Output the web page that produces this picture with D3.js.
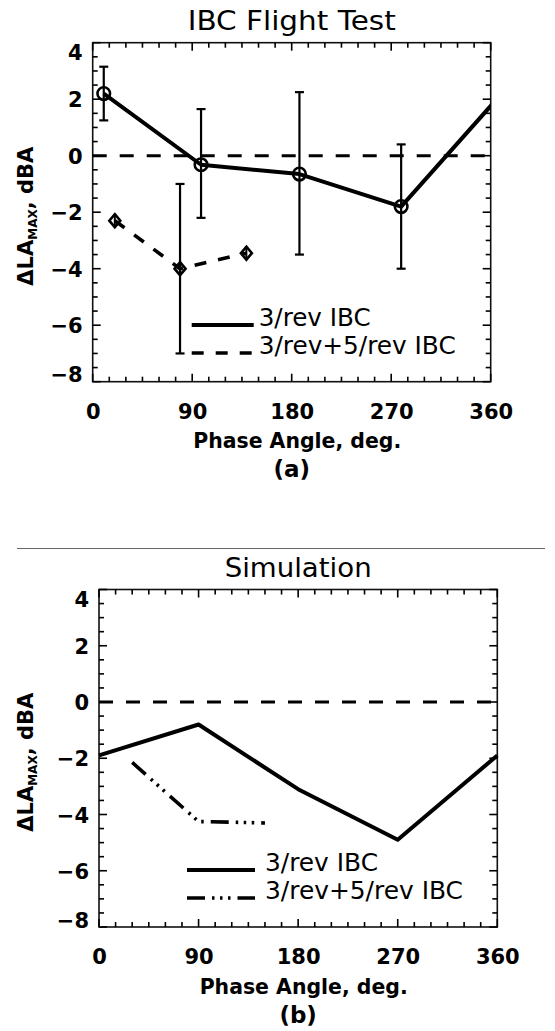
<!DOCTYPE html>
<html>
<head>
<meta charset="utf-8">
<script src="https://cdn.jsdelivr.net/npm/d3@7"></script>
<style>
  html, body { margin: 0; padding: 0; background: #fff; }
  svg { display: block; }
  text { font-family: "DejaVu Sans", "Liberation Sans", sans-serif; fill: #000; }
</style>
</head>
<body>
<svg id="chart" width="555" height="1031"></svg>
<script>
// ---- data -------------------------------------------------------------
const phaseTicks = [0, 90, 180, 270, 360];
const levelTicks = [4, 2, 0, -2, -4, -6, -8];
const phaseMinorStep = 15;
const levelMinorStep = 0.5;

// (a) flight test, 3/rev IBC (circles, with scatter bars)
const flight3Phase = [10, 98, 187, 279];
const flight3Level = [2.2, -0.32, -0.65, -1.8];
const flight3High  = [3.15, 1.65, 2.25, 0.4];
const flight3Low   = [1.25, -2.2, -3.5, -4.0];

// (a) flight test, 3/rev+5/rev IBC (diamonds)
const flight35Phase = [20, 79, 139];
const flight35Level = [-2.3, -4.0, -3.45];
const flight35BarPhase = [79];
const flight35BarHigh  = [-1.0];
const flight35BarLow   = [-7.0];

// (b) simulation
const sim3Phase = [0, 90, 180, 270, 360];
const sim3Level = [-1.9, -0.8, -3.1, -4.9, -1.9];
const sim35Phase = [30, 90, 150];
const sim35Level = [-2.15, -4.25, -4.3];

const seriesNames = ["3/rev IBC", "3/rev+5/rev IBC"];

// ---- layout -----------------------------------------------------------
const svg = d3.select("#chart");
svg.append("rect").attr("width", 555).attr("height", 1031).attr("fill", "#fff");

const panelA = {
  id: "a", left: 92.7, right: 490.7, top: 42.7, bottom: 381.7,
  title: "IBC Flight Test", titleLen: 208, titleY: 30,
  caption: "(a)",
  legend: { x0: 99, x1: 161, textX: 166, y: [325, 353], textLen: [112, 197] }
};
const panelB = {
  id: "b", left: 99, right: 497.3, top: 589.5, bottom: 927,
  title: "Simulation", titleLen: 147, titleY: 577,
  caption: "(b)",
  legend: { x0: 88, x1: 156, textX: 166, y: [870, 898], textLen: [113, 198] }
};

const dashZero = "14,13";
const dashFlight = "12,12";
const dashDotDotDot = "18,7,2.5,5.5,2.5,5.5,2.5,7";

function drawFrame(p) {
  const g = svg.append("g").attr("class", "panel-" + p.id);
  const x = d3.scaleLinear().domain([0, 360]).range([p.left, p.right]);
  const y = d3.scaleLinear().domain([-8, 4]).range([p.bottom, p.top]);

  const minorX = d3.range(0, 360 + 1e-9, phaseMinorStep);
  const minorY = d3.range(-8, 4 + 1e-9, levelMinorStep);
  const isMajorX = v => phaseTicks.includes(v);
  const isMajorY = v => levelTicks.includes(v);

  // frame
  g.append("rect")
    .attr("x", p.left).attr("y", p.top)
    .attr("width", p.right - p.left).attr("height", p.bottom - p.top)
    .attr("fill", "none").attr("stroke", "#111").attr("stroke-width", 1.6);

  // inward ticks on all four sides (long at labelled values)
  const tg = g.append("g").attr("stroke", "#000").attr("stroke-width", 1.6);
  minorX.forEach(v => {
    const len = isMajorX(v) ? 8 : 5;
    tg.append("line").attr("x1", x(v)).attr("x2", x(v)).attr("y1", p.bottom).attr("y2", p.bottom - len);
    tg.append("line").attr("x1", x(v)).attr("x2", x(v)).attr("y1", p.top).attr("y2", p.top + len);
  });
  minorY.forEach(v => {
    const len = isMajorY(v) ? 8 : 5;
    tg.append("line").attr("x1", p.left).attr("x2", p.left + len).attr("y1", y(v)).attr("y2", y(v));
    tg.append("line").attr("x1", p.right).attr("x2", p.right - len).attr("y1", y(v)).attr("y2", y(v));
  });

  // labels through d3 axes (ticks and domain hidden; the frame above draws them)
  const bottomAx = g.append("g").attr("transform", `translate(0,${p.bottom})`)
    .call(d3.axisBottom(x).tickValues(phaseTicks).tickSize(0)
      .tickPadding(22).tickFormat(d3.format("d")));
  const leftAx = g.append("g").attr("transform", `translate(${p.left},0)`)
    .call(d3.axisLeft(y).tickValues(levelTicks).tickSize(0)
      .tickPadding(10).tickFormat(d => d < 0 ? "\u2212" + Math.abs(d) : String(d)));

  [bottomAx, leftAx].forEach(a => {
    a.select(".domain").remove();
    a.selectAll(".tick line").remove();
    a.selectAll("text")
      .style("font-family", '"DejaVu Sans", sans-serif')
      .style("font-weight", "bold")
      .style("font-size", "21px")
      .attr("fill", "#000");
  });
  // keep the end labels of the level axis inside the frame height
  leftAx.selectAll(".tick text")
    .attr("dy", d => d === 4 ? "0.82em" : d === -8 ? "0.0em" : "0.36em");

  // zero reference
  g.append("line")
    .attr("x1", x(0)).attr("x2", x(360))
    .attr("y1", y(0)).attr("y2", y(0))
    .attr("stroke", "#000").attr("stroke-width", 3)
    .attr("stroke-dasharray", dashZero);

  // titles
  g.append("text")
    .attr("x", (p.left + p.right) / 2).attr("y", p.titleY)
    .attr("text-anchor", "middle")
    .attr("font-size", 26)
    .attr("textLength", p.titleLen).attr("lengthAdjust", "spacingAndGlyphs")
    .text(p.title);

  g.append("text")
    .attr("x", (p.left + p.right) / 2 + 5.5).attr("y", p.bottom + 66.6)
    .attr("text-anchor", "middle")
    .attr("font-size", 22).attr("font-weight", "bold")
    .attr("textLength", 208).attr("lengthAdjust", "spacingAndGlyphs")
    .text("Phase Angle, deg.");

  g.append("text")
    .attr("x", (p.left + p.right) / 2).attr("y", p.bottom + 95.5)
    .attr("text-anchor", "middle")
    .attr("font-size", 23).attr("font-weight", "bold")
    .text(p.caption);

  // level axis title:  ΔLA_MAX, dBA
  const yt = g.append("text")
    .attr("transform", `translate(33,${(p.top + p.bottom) / 2 + 4}) rotate(-90)`)
    .attr("text-anchor", "middle")
    .attr("font-size", 21).attr("font-weight", "bold");
  yt.append("tspan").text("\u0394LA");
  yt.append("tspan").attr("font-size", 12).attr("dy", 4).text("MAX");
  yt.append("tspan").attr("dy", -4).text(", dBA");

  return { g, x, y };
}

// ---- (a) flight test ----------------------------------------------------
(function () {
  const { g, x, y } = drawFrame(panelA);
  const clipId = "clip-a";
  g.append("clipPath").attr("id", clipId).append("rect")
    .attr("x", panelA.left).attr("y", panelA.top)
    .attr("width", panelA.right - panelA.left).attr("height", panelA.bottom - panelA.top);

  // periodic in phase: the curve continues to the first point one revolution later
  const pts3 = flight3Phase.map((ph, i) => [ph, flight3Level[i]]);
  const pts3Wrapped = pts3.concat([[pts3[0][0] + 360, pts3[0][1]]]);
  const line = d3.line().x(d => x(d[0])).y(d => y(d[1]));

  g.append("path").datum(pts3Wrapped)
    .attr("clip-path", `url(#${clipId})`)
    .attr("d", line).attr("fill", "none")
    .attr("stroke", "#000").attr("stroke-width", 4).attr("stroke-linejoin", "round");

  // scatter bars
  const bars = flight3Phase.map((ph, i) => ({ ph, hi: flight3High[i], lo: flight3Low[i] }))
    .concat(flight35BarPhase.map((ph, i) => ({ ph, hi: flight35BarHigh[i], lo: flight35BarLow[i] })));
  const bg = g.append("g").attr("stroke", "#000").attr("stroke-width", 2.2);
  bars.forEach(b => {
    bg.append("line").attr("x1", x(b.ph)).attr("x2", x(b.ph)).attr("y1", y(b.hi)).attr("y2", y(b.lo));
    bg.append("line").attr("x1", x(b.ph) - 4.5).attr("x2", x(b.ph) + 4.5).attr("y1", y(b.hi)).attr("y2", y(b.hi));
    bg.append("line").attr("x1", x(b.ph) - 4.5).attr("x2", x(b.ph) + 4.5).attr("y1", y(b.lo)).attr("y2", y(b.lo));
  });

  g.append("g").selectAll("circle").data(pts3).join("circle")
    .attr("cx", d => x(d[0])).attr("cy", d => y(d[1])).attr("r", 6.3)
    .attr("fill", "none").attr("stroke", "#000").attr("stroke-width", 2.6);

  const pts35 = flight35Phase.map((ph, i) => [ph, flight35Level[i]]);
  g.append("path").datum(pts35)
    .attr("d", line).attr("fill", "none")
    .attr("stroke", "#000").attr("stroke-width", 3.6)
    .attr("stroke-dasharray", dashFlight);

  const dg = g.append("g").attr("fill", "none").attr("stroke", "#000").attr("stroke-width", 2.6);
  pts35.forEach(d => {
    const cx = x(d[0]), cy = y(d[1]);
    dg.append("path").attr("d", `M${cx},${cy - 6.5}L${cx + 5.5},${cy}L${cx},${cy + 6.5}L${cx - 5.5},${cy}Z`);
    dg.append("line").attr("x1", cx).attr("x2", cx).attr("y1", cy - 6.5).attr("y2", cy + 6.5).attr("stroke-width", 2);
  });

  // legend
  const L = panelA.legend;
  const styles = [
    { dash: null, w: 4 },
    { dash: dashFlight, w: 3.6 }
  ];
  seriesNames.forEach((name, i) => {
    g.append("line")
      .attr("x1", panelA.left + L.x0).attr("x2", panelA.left + L.x1)
      .attr("y1", L.y[i]).attr("y2", L.y[i])
      .attr("stroke", "#000").attr("stroke-width", styles[i].w)
      .attr("stroke-dasharray", styles[i].dash);
    g.append("text")
      .attr("x", panelA.left + L.textX).attr("y", L.y[i] + 1)
      .attr("font-size", 24.5)
      .attr("textLength", L.textLen[i]).attr("lengthAdjust", "spacingAndGlyphs")
      .text(name);
  });
})();

// ---- (b) simulation -----------------------------------------------------
(function () {
  const { g, x, y } = drawFrame(panelB);
  const line = d3.line().x(d => x(d[0])).y(d => y(d[1]));

  g.append("path").datum(sim3Phase.map((ph, i) => [ph, sim3Level[i]]))
    .attr("d", line).attr("fill", "none")
    .attr("stroke", "#000").attr("stroke-width", 4).attr("stroke-linejoin", "round");

  g.append("path").datum(sim35Phase.map((ph, i) => [ph, sim35Level[i]]))
    .attr("d", line).attr("fill", "none")
    .attr("stroke", "#000").attr("stroke-width", 3.6)
    .attr("stroke-dasharray", dashDotDotDot);

  const L = panelB.legend;
  const styles = [
    { dash: null, w: 4 },
    { dash: dashDotDotDot, w: 3.6 }
  ];
  seriesNames.forEach((name, i) => {
    g.append("line")
      .attr("x1", panelB.left + L.x0).attr("x2", panelB.left + L.x1)
      .attr("y1", L.y[i]).attr("y2", L.y[i])
      .attr("stroke", "#000").attr("stroke-width", styles[i].w)
      .attr("stroke-dasharray", styles[i].dash);
    g.append("text")
      .attr("x", panelB.left + L.textX).attr("y", L.y[i] + 1)
      .attr("font-size", 24.5)
      .attr("textLength", L.textLen[i]).attr("lengthAdjust", "spacingAndGlyphs")
      .text(name);
  });
})();

// rule between the two panels
svg.append("line")
  .attr("x1", 17).attr("x2", 545).attr("y1", 548.5).attr("y2", 548.5)
  .attr("stroke", "#666").attr("stroke-width", 1.2);
</script>
</body>
</html>
